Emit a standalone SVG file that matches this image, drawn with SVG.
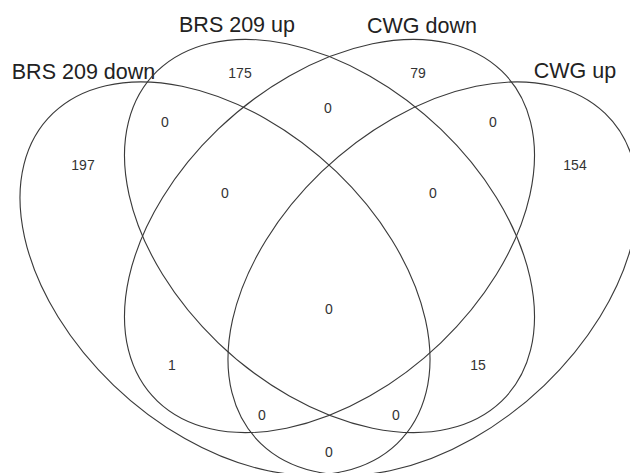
<svg xmlns="http://www.w3.org/2000/svg" width="630" height="473" viewBox="0 0 630 473">
<style>
.e{fill:none;stroke:#3a3a3a;stroke-width:1.1}
.n{font-family:"Liberation Sans",Arial,sans-serif;font-size:14px;fill:#333;text-anchor:middle}
.t{font-family:"Liberation Sans",Arial,sans-serif;font-size:21.5px;fill:#222;text-anchor:middle}
</style>
<rect width="630" height="473" fill="#fff"/>
<g id="connectors"></g>
<g id="set-brs209down">
<ellipse class="e" cx="0" cy="0" rx="237.5" ry="153.6" transform="translate(225,278.5) scale(1.025,0.983) rotate(45)"/>
<text class="t" x="83.5" y="79">BRS 209 down</text>
</g>
<g id="set-brs209up">
<ellipse class="e" cx="0" cy="0" rx="237.5" ry="153.6" transform="translate(329.5,236) scale(1.025,0.983) rotate(45)"/>
<text class="t" x="237" y="32">BRS 209 up</text>
</g>
<g id="set-cwgdown">
<ellipse class="e" cx="0" cy="0" rx="237.5" ry="153.6" transform="translate(329.5,236) scale(1.025,0.983) rotate(-45)"/>
<text class="t" x="422" y="33">CWG down</text>
</g>
<g id="set-cwgup">
<ellipse class="e" cx="0" cy="0" rx="237.5" ry="153.6" transform="translate(433,278.5) scale(1.025,0.983) rotate(-45)"/>
<text class="t" x="575" y="78">CWG up</text>
</g>
<g id="counts">
<text class="n" x="240" y="78">175</text>
<text class="n" x="418" y="78">79</text>
<text class="n" x="165" y="127">0</text>
<text class="n" x="328" y="113">0</text>
<text class="n" x="493" y="127">0</text>
<text class="n" x="83" y="170">197</text>
<text class="n" x="575" y="170">154</text>
<text class="n" x="225" y="198">0</text>
<text class="n" x="433" y="198">0</text>
<text class="n" x="329" y="314">0</text>
<text class="n" x="172" y="370">1</text>
<text class="n" x="478" y="370">15</text>
<text class="n" x="262" y="420">0</text>
<text class="n" x="396" y="420">0</text>
<text class="n" x="329" y="457">0</text>
</g>
</svg>
